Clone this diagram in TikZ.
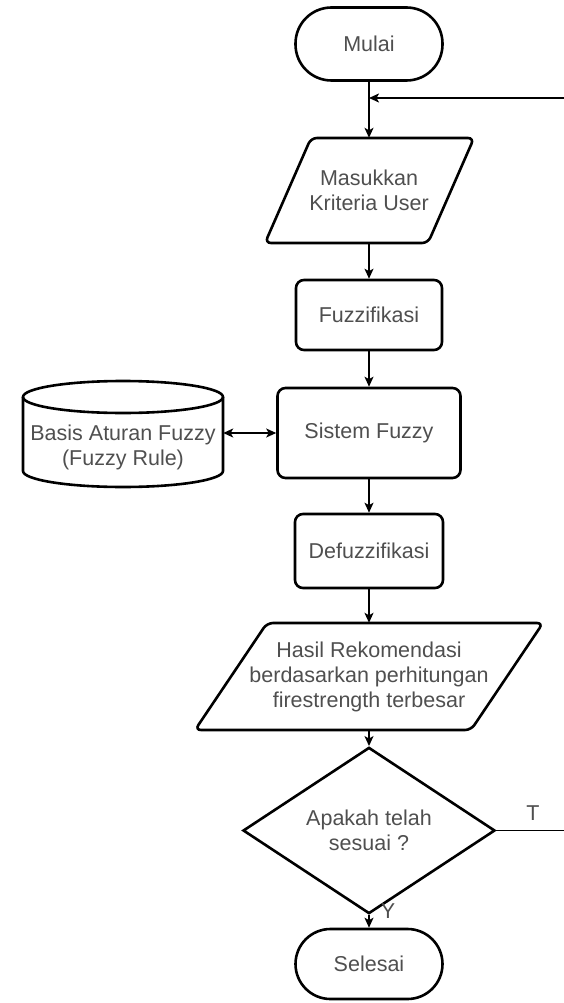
\documentclass[tikz,border=0pt]{standalone}
\usepackage{fontspec}
\setmainfont{Liberation Sans}
\usetikzlibrary{arrows.meta,shapes.geometric}
\definecolor{txtgray}{HTML}{4F4F4F}
\begin{document}
\begin{tikzpicture}[x=1pt,y=-1pt,
  every node/.style={text=txtgray, font=\fontsize{21.5}{25}\selectfont, align=center, inner sep=0pt},
  outline/.style={draw=black, line width=2.6pt},
  termbox/.style={outline, minimum width=147pt},
  procbox/.style={outline, rounded corners=8pt},
  conn/.style={draw=black, line width=1.6pt, -{Stealth[length=10pt,width=9pt,inset=2.5pt]}},
  dconn/.style={draw=black, line width=1.6pt, {Stealth[length=10pt,width=9pt,inset=2.5pt]}-{Stealth[length=10pt,width=9pt,inset=2.5pt]}},
  plain/.style={draw=black, line width=1.6pt},
]
\useasboundingbox (0,0) rectangle (564,1003);

% start
\node[termbox, minimum height=73pt, rounded corners=36pt] (mulai) at (369,44) {Mulai};

% input parallelogram
\node[minimum width=110pt, minimum height=105pt] (input) at (369,190.5) {Masukkan\\Kriteria User};
\draw[outline, rounded corners=6pt] (390,138) -- (474,138) -- (428,243) -- (265,243) -- (311,138) -- cycle;

% processes
\node[procbox, minimum width=146pt, minimum height=70pt] (fuzz) at (369,315) {Fuzzifikasi};
\node[procbox, minimum width=183pt, minimum height=90pt] (sys) at (369,433) {Sistem Fuzzy};
\node[procbox, minimum width=148pt, minimum height=74pt] (defuzz) at (369,551) {Defuzzifikasi};

% output parallelogram
\node[minimum width=150pt, minimum height=107pt] (out) at (369,676.5) {Hasil Rekomendasi\\berdasarkan perhitungan\\firestrength terbesar};
\draw[outline, rounded corners=6pt] (400,623) -- (543,623) -- (471,730) -- (195,730) -- (267,623) -- cycle;

% decision
\node[outline, diamond, minimum width=252pt, minimum height=125pt] (dec) at (369,830.5) {Apakah telah\\sesuai ?};

% end
\node[termbox, minimum height=70pt, rounded corners=35pt] (selesai) at (369,964) {Selesai};

% database cylinder
\draw[outline] (123,397) ellipse[x radius=100, y radius=16];
\draw[outline] (23,397) -- (23,471) arc[start angle=180, end angle=0, x radius=100, y radius=16] -- (223,397);
\node[minimum width=200pt] (rule) at (123,447) {Basis Aturan Fuzzy\\(Fuzzy Rule)};

% connectors
\draw[conn] (mulai) -- (input);
\draw[conn] (input) -- (fuzz);
\draw[conn] (fuzz) -- (sys);
\draw[conn] (sys) -- (defuzz);
\draw[conn] (defuzz) -- (out);
\draw[conn] (out) -- (dec);
\draw[conn] (dec) -- node[right, xshift=11pt, yshift=10pt] {Y} (selesai);
\draw[dconn] (rule.east |- sys.west) -- (sys.west);

\coordinate (fbin) at (564,98);
\draw[conn] (fbin) -- (fbin -| mulai);

\coordinate (tout) at (564,830.5);
\draw[plain] (dec.east) -- (dec.east -| tout) node[pos=0.54, above, yshift=9pt] {T};
\end{tikzpicture}
\end{document}
